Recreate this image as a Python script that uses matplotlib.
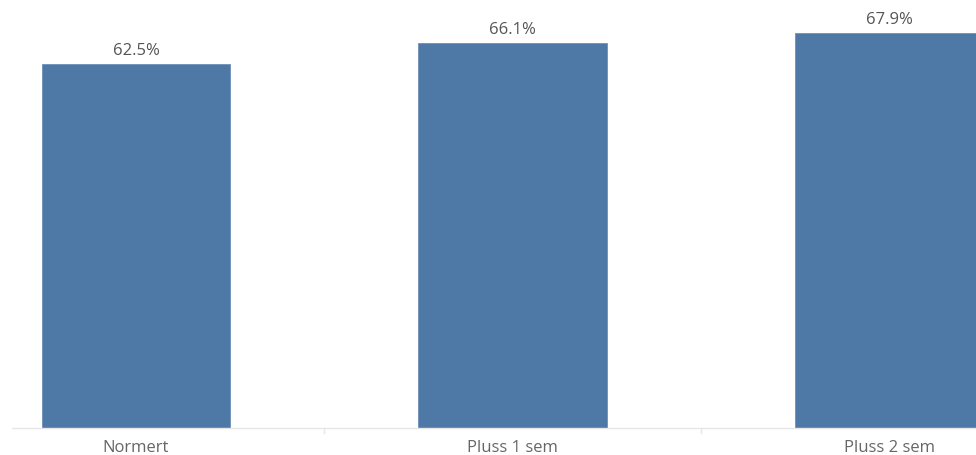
import matplotlib
matplotlib.use("Agg")
import matplotlib.pyplot as plt

categories = ["Normert", "Pluss 1 sem", "Pluss 2 sem"]
values = [62.5, 66.1, 67.9]
labels = ["62.5%", "66.1%", "67.9%"]

plt.rcParams['font.family'] = ['Open Sans', 'DejaVu Sans']

W, H = 976, 455
fig = plt.figure(figsize=(W/100, H/100), dpi=100)
base = (H - 428) / H
ax = fig.add_axes([0, base, 1, 1 - base])
ax.set_facecolor("white")

x = list(range(len(categories)))
ax.bar(x, values, width=0.5, color="#4E79A7", edgecolor="#6d8fb8", linewidth=0.6, zorder=2)

ax.set_xlim(-136/376.5, (976-136)/376.5)
ax.set_ylim(0, 428/5.824)

for xi, v, lab in zip(x, values, labels):
    ax.annotate(lab, (xi, v), xytext=(0, 3.5), textcoords="offset points",
                ha="center", va="bottom", fontsize=12, color="#555555")

for s in ax.spines.values():
    s.set_visible(False)
ax.set_yticks([])
ax.set_xticks([])
ax.axhline(0, xmin=12/976, xmax=1, color="#e6e6e6", linewidth=1, zorder=3, clip_on=False)

# category separators
for sep in [0.5, 1.5]:
    ax.plot([sep, sep], [0, -5*73.49/428], color="#e6e6e6", linewidth=1, clip_on=False)

for xi, c in zip(x, categories):
    ax.annotate(c, (xi, 0), xytext=(0, -8.5), textcoords="offset points",
                ha="center", va="top", fontsize=12, color="#666666", annotation_clip=False)

fig.savefig("out.png", dpi=100)
